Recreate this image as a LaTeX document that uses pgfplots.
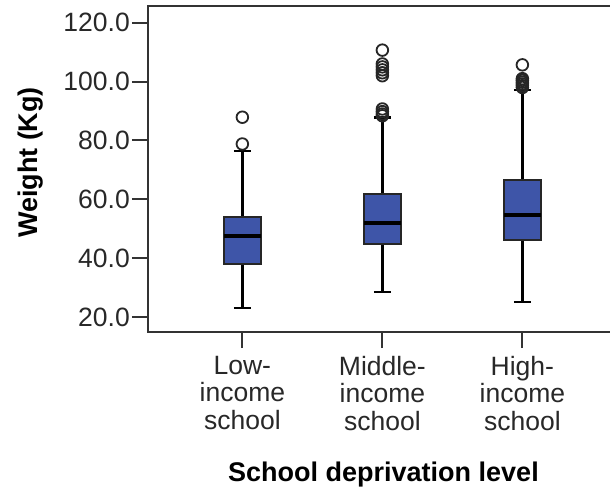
\documentclass[border=0pt]{standalone}
\usepackage{fontspec}
\setmainfont{Liberation Sans}
\usepackage{pgfplots}
\pgfplotsset{compat=1.18}
\definecolor{boxblue}{RGB}{62,85,168}
\definecolor{tickgray}{RGB}{40,40,40}
\begin{document}
\begin{tikzpicture}
\begin{axis}[
  at={(148bp,-5.7bp)}, anchor=north west,
  scale only axis, width=470bp, height=326.3bp,
  xmin=0.326, xmax=3.683, ymin=14.9, ymax=125.8,
  axis line style={line width=2bp, black!80},
  xtick={1,2,3},
  xticklabels={{Low-\\income\\school},{Middle-\\income\\school},{High-\\income\\school}},
  ytick={20,40,60,80,100,120},
  tick align=outside,
  major tick length=16bp,
  tick style={line width=2bp, black!80},
  xtick pos=bottom, ytick pos=left,
  xticklabel style={font=\fontsize{26.5bp}{27.5bp}\selectfont, text=tickgray, align=center, anchor=north, inner sep=0pt, yshift=-8bp},
  yticklabel style={/pgf/number format/.cd, fixed, fixed zerofill, precision=1, assume math mode=true, /tikz/.cd, font=\fontsize{26.5bp}{30bp}\selectfont, text=tickgray, anchor=east, inner sep=0pt, xshift=-2bp},
  xlabel={School deprivation level},
  ylabel={Weight (Kg)},
  xlabel style={font=\fontsize{27bp}{30bp}\selectfont\bfseries, at={(axis description cs:0.501,-0.458)}, anchor=base, inner sep=0pt},
  ylabel style={font=\fontsize{27bp}{30bp}\selectfont\bfseries, at={(axis description cs:-0.235,0.5195)}, anchor=base, rotate=0, inner sep=0pt},
  whisk/.style={black, line width=2.3bp, mark=none},
  boxs/.style={draw=black!85, fill=boxblue, line width=2bp, mark=none},
  med/.style={black, line width=4.5bp, mark=none},
  outl/.style={only marks, mark=o, mark size=5.8bp, mark options={line width=1.8bp, draw=black!85, fill=none}},
  clip=false,
]
% Low-income
\addplot[whisk] coordinates {(1,23.0) (1,38.0)};
\addplot[whisk] coordinates {(1,54.1) (1,76.5)};
\addplot[whisk] coordinates {(0.94,23.0) (1.06,23.0)};
\addplot[whisk] coordinates {(0.94,76.5) (1.06,76.5)};
\addplot[boxs] coordinates {(0.8675,38.0) (1.1325,38.0) (1.1325,54.1) (0.8675,54.1)} -- cycle;
\addplot[med] coordinates {(0.8675,47.6) (1.1325,47.6)};
\addplot[outl] coordinates {(1,87.9) (1,78.8)};
% Middle-income
\addplot[whisk] coordinates {(2,28.4) (2,44.7)};
\addplot[whisk] coordinates {(2,61.8) (2,87.8)};
\addplot[whisk] coordinates {(1.94,28.4) (2.06,28.4)};
\addplot[whisk] coordinates {(1.94,87.8) (2.06,87.8)};
\addplot[boxs] coordinates {(1.8675,44.7) (2.1325,44.7) (2.1325,61.8) (1.8675,61.8)} -- cycle;
\addplot[med] coordinates {(1.8675,52.0) (2.1325,52.0)};
\addplot[outl] coordinates {(2,110.7) (2,106.0) (2,105.0) (2,104.0) (2,103.0) (2,102.0) (2,90.7) (2,89.8) (2,89.0) (2,88.4)};
% High-income
\addplot[whisk] coordinates {(3,25.2) (3,46.2)};
\addplot[whisk] coordinates {(3,66.6) (3,97.2)};
\addplot[whisk] coordinates {(2.94,25.2) (3.06,25.2)};
\addplot[whisk] coordinates {(2.94,97.2) (3.06,97.2)};
\addplot[boxs] coordinates {(2.8675,46.2) (3.1325,46.2) (3.1325,66.6) (2.8675,66.6)} -- cycle;
\addplot[med] coordinates {(2.8675,54.6) (3.1325,54.6)};
\addplot[outl] coordinates {(3,105.7) (3,101.0) (3,100.4) (3,99.8) (3,99.2) (3,98.6) (3,98.0)};
\end{axis}
\pgfresetboundingbox
\path[use as bounding box] (0,0) rectangle (610bp,-491bp);
\end{tikzpicture}
\end{document}
